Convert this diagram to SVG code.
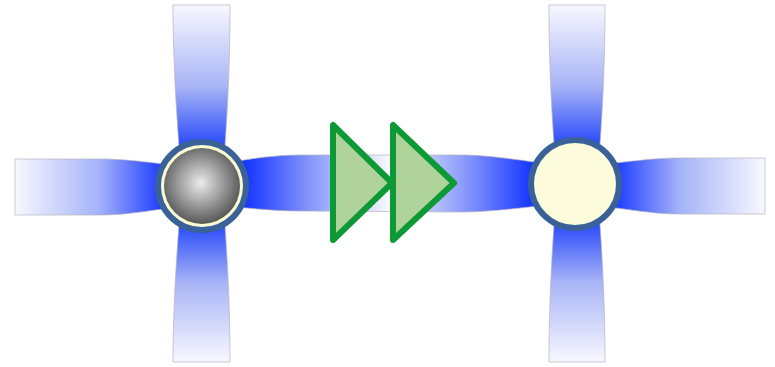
<svg xmlns="http://www.w3.org/2000/svg" width="775" height="367" viewBox="0 0 775 367">
  <style>
    .arm { stroke: #b4b4be; stroke-width: 0.7; }
    .ring { stroke: #3a6298; stroke-width: 6; }
    .tri { fill: #afd39a; stroke: #0d9a36; stroke-width: 6; stroke-linejoin: round; }
  </style>
  <defs>
    <linearGradient id="gR" x1="0" y1="0" x2="1" y2="0">
      <stop offset="0" stop-color="#f8f8ff"/>
      <stop offset="0.45" stop-color="#a4b2f8"/>
      <stop offset="0.8" stop-color="#1838ff"/>
      <stop offset="1" stop-color="#1536ff"/>
    </linearGradient>
    <linearGradient id="gL" x1="1" y1="0" x2="0" y2="0">
      <stop offset="0" stop-color="#f8f8ff"/>
      <stop offset="0.45" stop-color="#a4b2f8"/>
      <stop offset="0.8" stop-color="#1838ff"/>
      <stop offset="1" stop-color="#1536ff"/>
    </linearGradient>
    <linearGradient id="gD" x1="0" y1="0" x2="0" y2="1">
      <stop offset="0" stop-color="#f8f8ff"/>
      <stop offset="0.45" stop-color="#a8b4f6"/>
      <stop offset="0.76" stop-color="#3050fa"/>
      <stop offset="1" stop-color="#1838ff"/>
    </linearGradient>
    <linearGradient id="gU" x1="0" y1="1" x2="0" y2="0">
      <stop offset="0" stop-color="#f8f8ff"/>
      <stop offset="0.45" stop-color="#a8b4f6"/>
      <stop offset="0.76" stop-color="#3050fa"/>
      <stop offset="1" stop-color="#1838ff"/>
    </linearGradient>
    <linearGradient id="gMid" gradientUnits="userSpaceOnUse" x1="202" y1="0" x2="575" y2="0">
      <stop offset="0" stop-color="#1536ff"/>
      <stop offset="0.12" stop-color="#1838ff"/>
      <stop offset="0.3" stop-color="#8c9cfa"/>
      <stop offset="0.5" stop-color="#f8f8ff"/>
      <stop offset="0.7" stop-color="#8c9cfa"/>
      <stop offset="0.88" stop-color="#1838ff"/>
      <stop offset="1" stop-color="#1536ff"/>
    </linearGradient>
    <radialGradient id="gSphere" cx="0.48" cy="0.46" r="0.55">
      <stop offset="0" stop-color="#ececec"/>
      <stop offset="1" stop-color="#555555"/>
    </radialGradient>
  </defs>

  <g id="connectors">
    <path class="arm" fill="url(#gMid)" d="M202,168 C240,160 270,155 300,155 L460,155 C490,155 520,160 575,168 L575,202 C520,208 490,212 460,212 L300,211 C270,211 240,207 202,204 Z"/>
  </g>

  <g id="node-left">
    <path class="arm" fill="url(#gR)" d="M15,159 L100,159 C130,159 150,163 202,168 L202,204 C150,210 130,215 100,215 L15,215 Z"/>
    <path class="arm" fill="url(#gD)" d="M173,5 L230,5 C230,60 228,110 222,186 L182,186 C176,110 173,60 173,5 Z"/>
    <path class="arm" fill="url(#gU)" d="M173,362 L230,362 C230,310 228,260 222,186 L182,186 C176,260 173,310 173,362 Z"/>
    <circle class="ring" cx="202" cy="186" r="44" fill="#fafad2"/>
    <circle cx="202" cy="186" r="38" fill="url(#gSphere)"/>
  </g>

  <g id="node-right">
    <path class="arm" fill="url(#gL)" d="M765,158 L680,158 C650,158 630,162 575,167 L575,203 C630,209 650,214 680,214 L765,214 Z"/>
    <path class="arm" fill="url(#gD)" d="M549,5 L605,5 C605,60 603,110 597,184 L557,184 C551,110 549,60 549,5 Z"/>
    <path class="arm" fill="url(#gU)" d="M549,362 L605,362 C605,310 603,260 597,184 L557,184 C551,260 549,310 549,362 Z"/>
    <circle class="ring" cx="575" cy="184" r="44" fill="#fcfcdc"/>
  </g>

  <g id="arrow">
    <polygon class="tri" points="333,125 333,240 392,183"/>
    <polygon class="tri" points="393,125 393,240 454,183"/>
  </g>
</svg>
